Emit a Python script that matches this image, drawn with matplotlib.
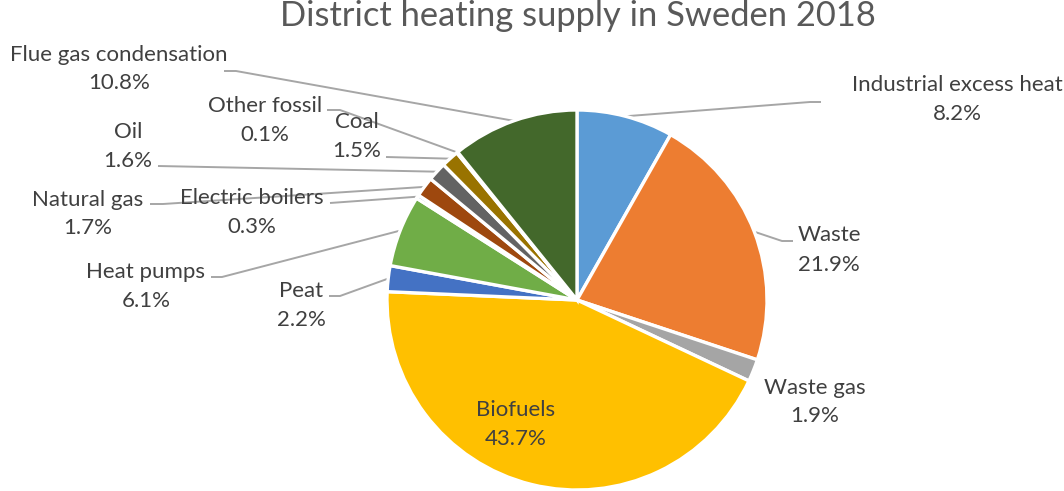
import numpy as np
import matplotlib
matplotlib.use("Agg")
import matplotlib.pyplot as plt

# District heating supply in Sweden, 2018 (share of total, %)
categories = ["Industrial excess heat", "Waste", "Waste gas", "Biofuels", "Peat",
              "Heat pumps", "Electric boilers", "Natural gas", "Oil", "Coal",
              "Other fossil", "Flue gas condensation"]
shares = [8.2, 21.9, 1.9, 43.7, 2.2, 6.1, 0.3, 1.7, 1.6, 1.5, 0.1, 10.8]
colors = ["#5B9BD5", "#ED7D31", "#A5A5A5", "#FFC000", "#4472C4", "#70AD47",
          "#255E91", "#9E480E", "#636363", "#997300", "#264478", "#43682B"]
title = "District heating supply in Sweden 2018"

W, H = 1064, 491
CX, CY, R = 577, 300, 190

# label layout in pixel space: (name x, name baseline, pct baseline, elbow points or None)
layout = {
    "Industrial excess heat": (957, 91, 120, [(821, 102), (810, 102)]),
    "Waste": (829, 241, 271, [(793, 241), (782, 241)]),
    "Waste gas": (815, 394, 422, None),
    "Biofuels": (516, 416, 445, None),
    "Peat": (301, 297, 326, [(329, 296), (340, 296)]),
    "Heat pumps": (146, 278, 307, [(211, 277), (222, 277)]),
    "Electric boilers": (252, 204, 233, [(330, 203)]),
    "Natural gas": (88, 206, 234, [(150, 204), (163, 204)]),
    "Oil": (128, 138, 167, [(158, 166)]),
    "Coal": (357, 128, 157, [(386, 157)]),
    "Other fossil": (265, 112, 141, [(327, 110), (340, 110)]),
    "Flue gas condensation": (119, 61, 89, [(224, 71), (236, 71)]),
}

plt.rcParams["font.family"] = ["Lato", "DejaVu Sans"]

fig = plt.figure(figsize=(W / 100, H / 100), dpi=100)
ax = fig.add_axes([0, 0, 1, 1])


def py(y):
    return H - y


wedges, _ = ax.pie(shares, colors=colors, startangle=90, counterclock=False,
                   center=(CX, py(CY)), radius=R, frame=True,
                   wedgeprops=dict(edgecolor="white", linewidth=2.4))
ax.set_xlim(0, W)
ax.set_ylim(0, H)
ax.set_aspect("equal")
ax.axis("off")

txt_color = "#404040"
line_color = "#A6A6A6"
fs = 16

for w, name, val in zip(wedges, categories, shares):
    nx, nb, pb, elbow = layout[name]
    ax.text(nx, py(nb), name, ha="center", va="baseline", fontsize=fs, color=txt_color)
    ax.text(nx, py(pb), f"{val:.1f}%", ha="center", va="baseline", fontsize=fs, color=txt_color)
    if elbow:
        mid = np.deg2rad((w.theta1 + w.theta2) / 2)
        ax_x = CX + R * np.cos(mid)
        ax_y = py(CY) + R * np.sin(mid)
        xs = [p[0] for p in elbow] + [ax_x]
        ys = [py(p[1]) for p in elbow] + [ax_y]
        ax.plot(xs, ys, color=line_color, lw=1.4, solid_capstyle="butt", zorder=0.5)

ax.text(578, py(26), title, ha="center", va="baseline", fontsize=24.8, color="#595959")

fig.savefig("out.png", dpi=100)
